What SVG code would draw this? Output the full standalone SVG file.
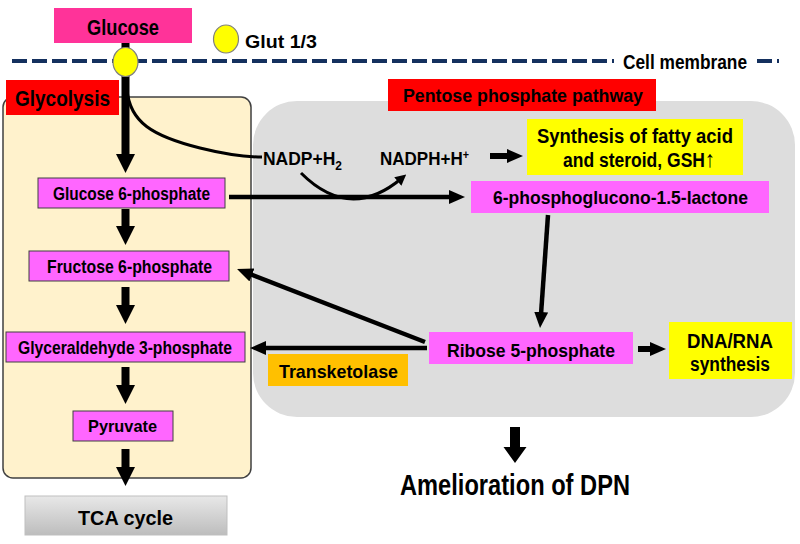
<svg xmlns="http://www.w3.org/2000/svg" width="800" height="544" viewBox="0 0 800 544">
<defs>
<style>
text{font-family:"Liberation Sans",Arial,sans-serif;font-weight:bold;fill:#000}
.mag{fill:#FF66FF;stroke:#404040;stroke-width:1}
.magn{fill:#FF66FF;stroke:none}
.yel{fill:#FFFF00;stroke:none}
.red{fill:#FF0000;stroke:none}
.ln{fill:none;stroke:#000;stroke-width:4.5;marker-end:url(#ah)}
.blk{fill:#000;stroke:none}
.mem{stroke:#14305E;stroke-width:4;stroke-dasharray:15 5;fill:none}
</style>
<marker id="ah" markerUnits="userSpaceOnUse" viewBox="0 0 16 14" markerWidth="16" markerHeight="14" refX="8" refY="7" orient="auto">
<path d="M0,0 L16,7 L0,14 z" fill="#000"/>
</marker>
<marker id="ahs" markerUnits="userSpaceOnUse" viewBox="0 0 10 10" markerWidth="11" markerHeight="11" refX="5" refY="5" orient="auto">
<path d="M0,0 L10,5 L0,10 z" fill="#000"/>
</marker>
<linearGradient id="tca" x1="0" y1="0" x2="0" y2="1">
<stop offset="0" stop-color="#E8E8E8"/>
<stop offset="1" stop-color="#BDBDBD"/>
</linearGradient>
</defs>
<rect width="800" height="544" fill="#fff"/>

<g id="membrane">
<line class="mem" x1="12" y1="61" x2="614" y2="61"/>
<line class="mem" x1="757" y1="61" x2="779" y2="61"/>
<text x="623" y="69" font-size="20" textLength="124" lengthAdjust="spacingAndGlyphs">Cell membrane</text>
</g>

<g id="ppp-panel">
<rect x="253" y="101" width="542" height="316" rx="44" fill="#DDDDDD"/>
</g>
<g id="glycolysis-panel">
<rect x="3" y="97" width="248" height="381" rx="10" fill="#FFF2CC" stroke="#404040" stroke-width="1.5"/>
</g>

<g id="connectors">
<path d="M121.5,43 H129.5 V154 H135 L125.5,173 L116,154 H121.5 Z" class="blk"/>
<path d="M127,90 C130,122 152,136 200,148 C228,155 244,157 262,157" fill="none" stroke="#000" stroke-width="3"/>
<path d="M121.5,209 H129.5 V226 H135 L125.5,245 L116,226 H121.5 Z" class="blk"/>
<path d="M121.5,287 H129.5 V305 H135 L125.5,324 L116,305 H121.5 Z" class="blk"/>
<path d="M121.5,367 H129.5 V385 H135 L125.5,404 L116,385 H121.5 Z" class="blk"/>
<path d="M121.5,449 H129.5 V467 H135 L125.5,486 L116,467 H121.5 Z" class="blk"/>
<path d="M510,427 H520 V447 H526.5 L515,463 L503.5,447 H510 Z" class="blk"/>
<line class="ln" x1="229" y1="197" x2="457" y2="197"/>
<path d="M301,173 Q350,222 402,178" fill="none" stroke="#000" stroke-width="3" marker-end="url(#ahs)"/>
<line class="ln" x1="490" y1="156" x2="515" y2="156" style="stroke-width:6"/>
<line class="ln" x1="548" y1="215" x2="540.6" y2="320"/>
<line class="ln" x1="425" y1="342" x2="244.5" y2="272"/>
<line class="ln" x1="427" y1="348" x2="258" y2="348"/>
<line class="ln" x1="638" y1="349" x2="658" y2="349" style="stroke-width:6"/>
</g>

<g id="glucose">
<rect x="54" y="8" width="138" height="35" fill="#FF3399"/>
<text x="87" y="35" font-size="22" textLength="72" lengthAdjust="spacingAndGlyphs">Glucose</text>
</g>
<g id="glut-transporter">
<ellipse cx="125.5" cy="62" rx="12.5" ry="14.5" fill="#FFFF00" stroke="#808080" stroke-width="1.2"/>
</g>
<g id="glut-legend">
<ellipse cx="226" cy="39" rx="12.5" ry="14" fill="#FFFF00" stroke="#808080" stroke-width="1.2"/>
<text x="245" y="48" font-size="19" textLength="72" lengthAdjust="spacingAndGlyphs">Glut 1/3</text>
</g>

<g id="glycolysis-label">
<rect class="red" x="6" y="80" width="113" height="35"/>
<text x="15" y="106" font-size="22" textLength="95" lengthAdjust="spacingAndGlyphs">Glycolysis</text>
</g>
<g id="ppp-label">
<rect class="red" x="388" y="79" width="268" height="32"/>
<text x="403" y="102" font-size="19" textLength="240" lengthAdjust="spacingAndGlyphs">Pentose phosphate pathway</text>
</g>

<g id="g6p">
<rect class="mag" x="38" y="178" width="187" height="30"/>
<text x="53" y="200" font-size="18" textLength="157" lengthAdjust="spacingAndGlyphs">Glucose 6-phosphate</text>
</g>
<g id="f6p">
<rect class="mag" x="29" y="251" width="200" height="30"/>
<text x="47" y="273" font-size="19" textLength="165" lengthAdjust="spacingAndGlyphs">Fructose 6-phosphate</text>
</g>
<g id="ga3p">
<rect class="mag" x="6" y="332" width="239" height="30"/>
<text x="18" y="354" font-size="19" textLength="214" lengthAdjust="spacingAndGlyphs">Glyceraldehyde 3-phosphate</text>
</g>
<g id="pyruvate">
<rect class="mag" x="73" y="411" width="100" height="30"/>
<text x="88" y="432" font-size="17" textLength="69" lengthAdjust="spacingAndGlyphs">Pyruvate</text>
</g>
<g id="tca">
<rect x="25" y="496" width="202" height="39" fill="url(#tca)" stroke="#BFBFBF" stroke-width="1"/>
<text x="78" y="525" font-size="21" textLength="95" lengthAdjust="spacingAndGlyphs">TCA cycle</text>
</g>

<g id="nadp">
<text x="263" y="165" font-size="19" textLength="79" lengthAdjust="spacingAndGlyphs">NADP+H<tspan font-size="13" dy="5">2</tspan></text>
</g>
<g id="nadph">
<text x="380" y="165" font-size="19" textLength="89" lengthAdjust="spacingAndGlyphs">NADPH+H<tspan font-size="12" dy="-6">+</tspan></text>
</g>
<g id="synthesis-fatty">
<rect class="yel" x="527" y="119" width="216" height="56"/>
<text x="537" y="143" font-size="20" textLength="196" lengthAdjust="spacingAndGlyphs">Synthesis of fatty acid</text>
<text x="563" y="167" font-size="20" textLength="152" lengthAdjust="spacingAndGlyphs">and steroid, GSH<tspan font-size="23">↑</tspan></text>
</g>
<g id="lactone">
<rect class="magn" x="471" y="181" width="298" height="32"/>
<text x="493" y="204" font-size="19" textLength="255" lengthAdjust="spacingAndGlyphs">6-phosphoglucono-1.5-lactone</text>
</g>
<g id="ribose">
<rect class="magn" x="429" y="332" width="204" height="32"/>
<text x="447" y="357" font-size="19" textLength="168" lengthAdjust="spacingAndGlyphs">Ribose 5-phosphate</text>
</g>
<g id="transketolase">
<rect x="268" y="354" width="140" height="32" fill="#FFC000"/>
<text x="279" y="378" font-size="19" textLength="119" lengthAdjust="spacingAndGlyphs">Transketolase</text>
</g>
<g id="dna-rna">
<rect class="yel" x="669" y="322" width="123" height="57"/>
<text x="687" y="348" font-size="20" textLength="86" lengthAdjust="spacingAndGlyphs">DNA/RNA</text>
<text x="690" y="371" font-size="20" textLength="80" lengthAdjust="spacingAndGlyphs">synthesis</text>
</g>
<g id="amelioration">
<text x="400" y="495" font-size="30" textLength="230" lengthAdjust="spacingAndGlyphs">Amelioration of DPN</text>
</g>
</svg>
